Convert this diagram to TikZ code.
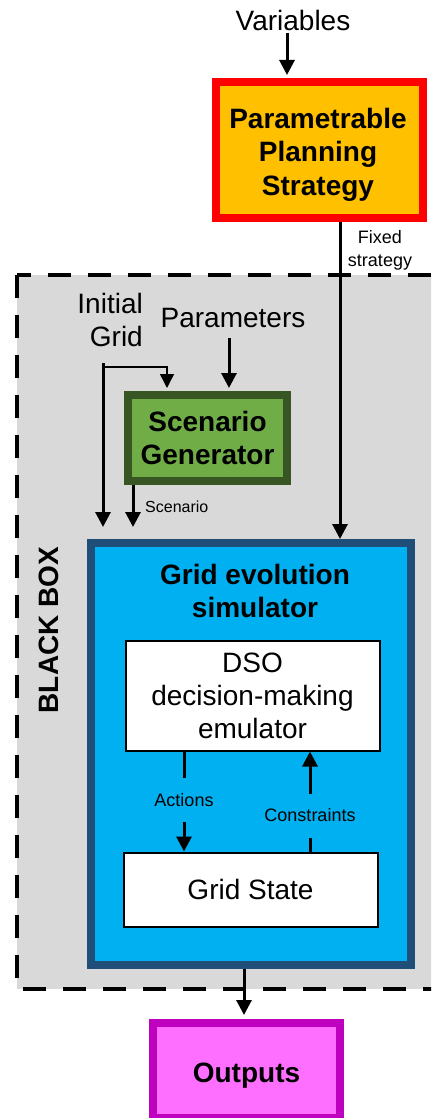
\documentclass[tikz,border=0pt]{standalone}
\usepackage{fontspec}
\setmainfont{Liberation Sans}
\usetikzlibrary{arrows.meta}
\definecolor{bbgray}{HTML}{D9D9D9}
\definecolor{simborder}{HTML}{1F4E79}
\definecolor{simfill}{HTML}{00B0F0}
\definecolor{ppsfill}{HTML}{FFC000}
\definecolor{ppsborder}{HTML}{FF0000}
\definecolor{sgfill}{HTML}{70AD47}
\definecolor{sgborder}{HTML}{375623}
\definecolor{outfill}{HTML}{FF6FFF}
\definecolor{outborder}{HTML}{BF00BF}
\begin{document}
\begin{tikzpicture}[x=1pt,y=-1pt,
  bigtxt/.style={font=\fontsize{28}{33.5}\selectfont, inner sep=0pt},
  bigbold/.style={font=\fontsize{28}{33.5}\selectfont\bfseries, inner sep=0pt},
  smalltxt/.style={font=\fontsize{18}{23}\selectfont, inner sep=0pt},
  thickbox/.style={draw, line width=8pt, align=center, inner sep=0pt},
  thinbox/.style={draw=black, fill=white, line width=2pt, align=center, inner sep=0pt},
  arr/.style={line width=3pt, -{Triangle[width=15pt,length=15pt]}},
  thinarr/.style={line width=1.5pt, -{Triangle[width=14pt,length=14pt]}},
  gaplbl/.style={smalltxt, fill=simfill, minimum height=44pt}
]
\useasboundingbox (0,0) rectangle (431,1118);
\clip (0,0) rectangle (431,1118);
\fill[white] (0,0) rectangle (431,1118);

% black box region
\draw[fill=bbgray, draw=black, line width=4.5pt, dash pattern=on 23pt off 17pt]
  (17,275) rectangle (470,989);
\node[bigbold, rotate=90] (bb) at (49,630) {BLACK BOX};

% top strategy
\node[bigtxt] (var) at (293,20) {Variables};
\node[thickbox, draw=ppsborder, fill=ppsfill, minimum width=207pt, minimum height=136pt] (pps) at (319.5,150) {};
\node[bigbold, align=center] (ppstxt) at (318,154.5) {Parametrable\\Planning\\Strategy};
\node[smalltxt, align=center] (fixlbl) at (380,250.5) {Fixed\\strategy};

% inputs
\node[bigtxt, align=right, anchor=east] (ig) at (143,320) {Initial\\Grid};
\node[bigtxt] (par) at (233,318) {Parameters};
\node[thickbox, draw=sgborder, fill=sgfill, minimum width=159pt, minimum height=86pt,
  font=\fontsize{28}{33.5}\selectfont\bfseries] (sg) at (207.5,438) {Scenario\\Generator};
\node[smalltxt, font=\fontsize{16}{20}\selectfont, anchor=west] (sclbl) at (145,507) {Scenario};

% simulator
\node[thickbox, draw=simborder, fill=simfill, minimum width=320pt, minimum height=422pt] (ges) at (251,754) {};
\node[bigbold, align=center] (gestitle) at (255,591) {Grid evolution\\simulator};
\node[thinbox, minimum width=254pt, minimum height=110pt, font=\fontsize{28}{33}\selectfont] (dso) at (252.5,695.5)
  {DSO\\decision-making\\emulator};
\node[thinbox, minimum width=254pt, minimum height=74pt, font=\fontsize{28}{33}\selectfont] (gs) at (250.5,889.5) {Grid State};

% outputs
\node[draw=outborder, fill=outfill, line width=8pt, inner sep=0pt, minimum width=187pt, minimum height=95pt,
  text height=24pt, text depth=0pt,
  font=\fontsize{28}{33.5}\selectfont\bfseries] (out) at (246.5,1070.5) {Outputs};

% coordinates
\coordinate (vx) at (287,33);
\coordinate (fx) at (340,0);
\coordinate (p1) at (229,338);
\coordinate (ig1) at (103,363);
\coordinate (ig2) at (103,527);
\coordinate (igb) at (103,367);
\coordinate (igc) at (167,0);
\coordinate (sx) at (133,0);
\coordinate (sc2) at (133,527);
\coordinate (ax) at (184,0);
\coordinate (cx) at (310,0);
\coordinate (ox) at (244,0);

% connectors
\draw[arr, shorten >=3pt] (vx) -- (vx |- pps.north);
\draw[arr] (pps.south -| fx) -- (ges.north -| fx);
\draw[arr, shorten >=3pt] (p1) -- (p1 |- sg.north);
\draw[arr] (ig1) -- (ig2);
\draw[thinarr, shorten >=3pt] (igb) -| (igc |- sg.north);
\draw[arr] (sg.south -| sx) -- (sc2);
\draw[arr] (dso.south -| ax) -- (gs.north -| ax)
  node[gaplbl, pos=0.485] (actlbl) {Actions};
\draw[arr] (gs.north -| cx) -- (dso.south -| cx)
  node[gaplbl, pos=0.36] (conlbl) {Constraints};
\draw[arr, shorten >=4pt] (ges.south -| ox) -- (out.north -| ox);
\end{tikzpicture}
\end{document}
